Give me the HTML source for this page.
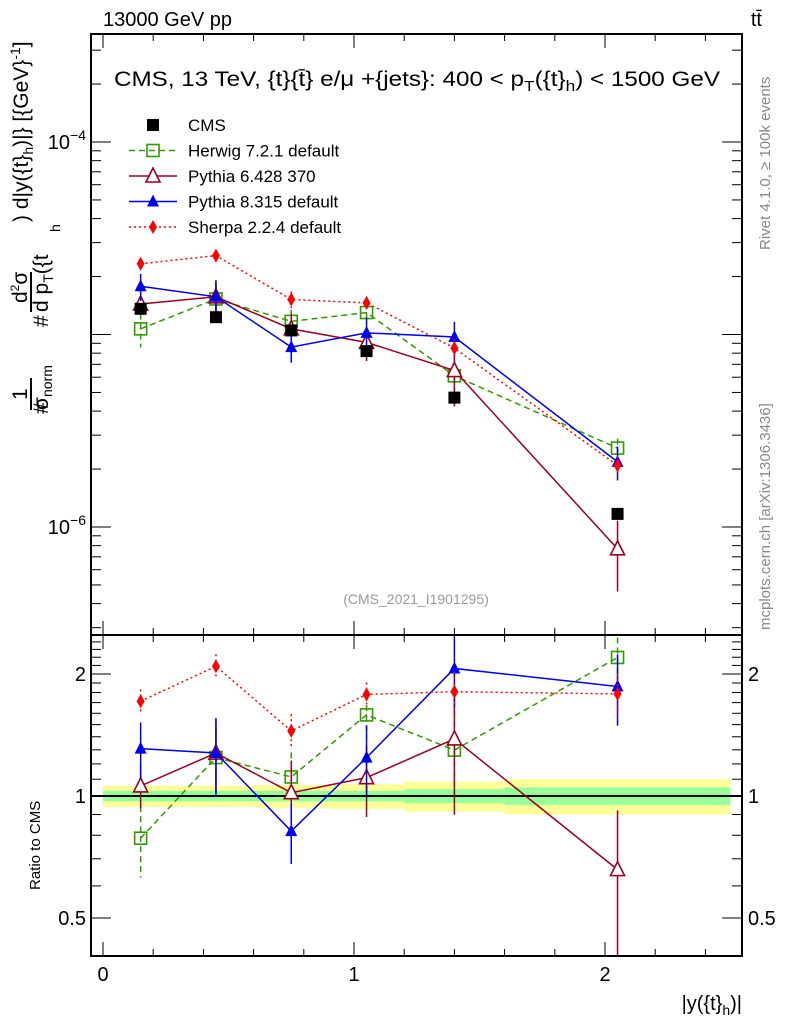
<!DOCTYPE html>
<html><head><meta charset="utf-8"><style>
html,body{margin:0;padding:0;background:#fff;}
svg{display:block;font-family:"Liberation Sans",sans-serif;}
</style></head><body>
<svg id="chart" width="786" height="1024" viewBox="0 0 786 1024">
<g id="bands"></g>
<g id="ticks"></g>
<g id="series"></g>
<rect x="91" y="34" width="651" height="601" fill="none" stroke="#000" stroke-width="2"/>
<rect x="91" y="635" width="651" height="321" fill="none" stroke="#000" stroke-width="2"/>
<text x="103" y="26" font-size="20">13000 GeV pp</text>
<text x="762" y="26" font-size="20" text-anchor="end">tt̄</text>
<text x="114" y="86" font-size="21" textLength="606" lengthAdjust="spacingAndGlyphs">CMS, 13 TeV, {t}{t̄} e/μ +{jets}: 400 &lt;  p<tspan font-size="15" dy="5">T</tspan><tspan dy="-5">({t}</tspan><tspan font-size="15" dy="5">h</tspan><tspan dy="-5">) &lt; 1500 GeV</tspan></text>
<text x="416" y="604" font-size="14" fill="#999" text-anchor="middle">(CMS_2021_I1901295)</text>
<text transform="translate(770,250) rotate(-90)" font-size="15" fill="#888">Rivet 4.1.0, ≥ 100k events</text>
<text transform="translate(770,630) rotate(-90)" font-size="15" fill="#888">mcplots.cern.ch [arXiv:1306.3436]</text>
<g transform="rotate(-90)" font-size="21">
<text x="-414" y="48">#</text>
<text x="-400" y="27">1</text>
<line x1="-410" y1="31" x2="-378" y2="31" stroke="#000" stroke-width="2"/>
<text x="-410" y="48">σ<tspan font-size="14" dy="4">norm</tspan></text>
<text x="-327" y="48">#</text>
<text x="-303" y="27">d<tspan font-size="12" dy="-8">2</tspan><tspan dy="8">σ</tspan></text>
<line x1="-312" y1="31" x2="-272" y2="31" stroke="#000" stroke-width="2"/>
<text x="-312" y="48">d p<tspan font-size="14" dy="5">T</tspan><tspan dy="-5">({t</tspan></text>
<text x="-232" y="60" font-size="14">h</text>
<text x="-222" y="28">) d|y({t}<tspan font-size="14" dy="5">h</tspan><tspan dy="-5">)|} [{GeV}</tspan><tspan font-size="14" dy="-8">-1</tspan><tspan dy="8">]</tspan></text>
</g>
<text transform="translate(40,890) rotate(-90)" font-size="15">Ratio to CMS</text>
<text x="742" y="1010" font-size="20" text-anchor="end">|y({t}<tspan font-size="14" dy="5">h</tspan><tspan dy="-5">)|</tspan></text>
<g id="legend"></g>
</svg>
<script>
const NS="http://www.w3.org/2000/svg";
const xCenters=[0.15,0.45,0.75,1.05,1.4,2.05];
const binEdges=[0,0.3,0.6,0.9,1.2,1.6,2.5];
const cmsVals=[1.36e-5,1.23e-5,1.05e-5,8.2e-6,4.7e-6,1.17e-6];
const herwigVals=[1.07e-5,1.53e-5,1.17e-5,1.30e-5,6.1e-6,2.57e-6];
const pythia6Vals=[1.44e-5,1.57e-5,1.07e-5,9.1e-6,6.5e-6,7.7e-7];
const pythia8Vals=[1.78e-5,1.57e-5,8.6e-6,1.02e-5,9.7e-6,2.18e-6];
const sherpaVals=[2.33e-5,2.57e-5,1.52e-5,1.46e-5,8.5e-6,2.09e-6];
const herwigErr=[0.2,0.18,0.15,0.12,0.25,0.12];
const pythia6Err=[0.12,0.2,0.2,0.2,0.35,0.4];
const pythia8Err=[0.16,0.22,0.17,0.2,0.2,0.2];
const sherpaErr=[0.07,0.07,0.1,0.07,0.12,0.12];
const bandInner=[0.03,0.03,0.03,0.03,0.04,0.05];
const bandOuter=[0.06,0.06,0.065,0.07,0.085,0.1];
const xTickLabels=["0","1","2"];
const ratioTickVals=[0.5,1,2];
const ratioTickLabels=["0.5","1","2"];

const X=v=>103+v*251;
const Y=v=>142-(Math.log10(v)+4)*192.5;
const R=v=>796-Math.log2(v)*122;
const RTOP=635,RBOT=956,TOP=34;

function mk(tag,attrs,parent){const e=document.createElementNS(NS,tag);for(const k in attrs)e.setAttribute(k,attrs[k]);parent.appendChild(e);return e;}
const bands=document.getElementById('bands');
const ticks=document.getElementById('ticks');
const series=document.getElementById('series');
const legend=document.getElementById('legend');

for(let i=0;i<cmsVals.length;i++){
  const x0=X(binEdges[i]),x1=X(binEdges[i+1]);
  const o=mk('rect',{x:x0,y:R(1+bandOuter[i]),width:x1-x0,height:R(1-bandOuter[i])-R(1+bandOuter[i]),fill:'#ffff99'},bands);
  
  
  const n=mk('rect',{x:x0,y:R(1+bandInner[i]),width:x1-x0,height:R(1-bandInner[i])-R(1+bandInner[i]),fill:'#99ff99'},bands);
  
  
}
const one=mk('line',{x1:91,x2:742,y1:R(1),y2:R(1),stroke:'#000','stroke-width':2},bands);



for(let v=0;v<=2.5001;v+=0.2){
  const major=Math.abs(v-Math.round(v))<1e-6;
  const xv=X(v);
  const L=major?14:7;
  mk('line',{x1:xv,x2:xv,y1:RBOT,y2:RBOT-L,stroke:'#000'},ticks);
  mk('line',{x1:xv,x2:xv,y1:RTOP,y2:RTOP-L,stroke:'#000'},ticks);
  mk('line',{x1:xv,x2:xv,y1:RTOP,y2:RTOP+L,stroke:'#000'},ticks);
  mk('line',{x1:xv,x2:xv,y1:TOP,y2:TOP+L,stroke:'#000'},ticks);
}
xTickLabels.forEach((t,i)=>{
  const e=mk('text',{x:X(i),y:981,'font-size':20,'text-anchor':'middle'},ticks);
  e.textContent=t;
  
  
});
for(let d=-7;d<=-4;d++){
  for(let m=1;m<10;m++){
    const v=m*Math.pow(10,d);const y=Y(v);
    if(y<TOP||y>RTOP)continue;
    const L=m===1?20:10;
    mk('line',{x1:91,x2:91+L,y1:y,y2:y,stroke:'#000'},ticks);
    mk('line',{x1:742,x2:742-L,y1:y,y2:y,stroke:'#000'},ticks);
  }
}
[-6,-4].forEach(d=>{
  const e=mk('text',{x:86,y:Y(Math.pow(10,d))+7,'font-size':20,'text-anchor':'end'},ticks);
  e.innerHTML='10<tspan font-size="14" dy="-9">−'+(-d)+'</tspan>';
  
  
});
for(let v=0.4;v<2.6;v+=0.1){
  const y=R(v);if(y<RTOP||y>RBOT)continue;
  const major=[0.5,1,2].some(t=>Math.abs(t-v)<1e-6);
  const L=major?20:10;
  mk('line',{x1:91,x2:91+L,y1:y,y2:y,stroke:'#000'},ticks);
  mk('line',{x1:742,x2:742-L,y1:y,y2:y,stroke:'#000'},ticks);
}
ratioTickVals.forEach((v,i)=>{
  const a=mk('text',{x:86,y:R(v)+7,'font-size':20,'text-anchor':'end'},ticks);
  a.textContent=ratioTickLabels[i];
  
  
  const b=mk('text',{x:748,y:R(v)+7,'font-size':20},ticks);
  b.textContent=ratioTickLabels[i];
  
  
});

function marker(kind,x,y,c,g){
  if(kind==='sq') return mk('rect',{x:x-6,y:y-6,width:12,height:12,fill:'none',stroke:c,'stroke-width':1.6},g);
  if(kind==='box') return mk('rect',{x:x-6,y:y-6,width:12,height:12,fill:c},g);
  if(kind==='otri') return mk('polygon',{points:`${x},${y-8} ${x-7},${y+6} ${x+7},${y+6}`,fill:'#fff',stroke:c,'stroke-width':1.6},g);
  if(kind==='tri') return mk('polygon',{points:`${x},${y-7} ${x-6},${y+5} ${x+6},${y+5}`,fill:c},g);
  if(kind==='dia') return mk('polygon',{points:`${x},${y-7} ${x-4},${y} ${x},${y+7} ${x+4},${y}`,fill:c},g);
}
const models=[
  {name:'herwig',vals:herwigVals,err:herwigErr,c:'#339900',dash:'6,4',m:'sq',label:'Herwig 7.2.1 default'},
  {name:'pythia6',vals:pythia6Vals,err:pythia6Err,c:'#990022',dash:'',m:'otri',label:'Pythia 6.428 370'},
  {name:'pythia8',vals:pythia8Vals,err:pythia8Err,c:'#0000ee',dash:'',m:'tri',label:'Pythia 8.315 default'},
  {name:'sherpa',vals:sherpaVals,err:sherpaErr,c:'#ff0000',dash:'2,3',m:'dia',label:'Sherpa 2.2.4 default'}
];
models.forEach(md=>{
  const g=mk('g',{},series);
  
  
  const up=[],lo=[];
  md.vals.forEach((v,i)=>{
    const r=v/cmsVals[i];
    const x=X(xCenters[i]);
    up.push(x+','+Y(v));
    lo.push(x+','+R(r));
    const eU1=Y(v*(1+md.err[i])),eU0=Y(Math.max(v*(1-md.err[i]),1e-9));
    mk('line',{x1:x,x2:x,y1:Math.max(eU1,TOP),y2:Math.min(eU0,RTOP),stroke:md.c,'stroke-width':1.5,'stroke-dasharray':md.dash},g);
    const eL1=R(r*(1+md.err[i])),eL0=R(Math.max(r*(1-md.err[i]),0.01));
    mk('line',{x1:x,x2:x,y1:Math.max(eL1,RTOP),y2:Math.min(eL0,RBOT),stroke:md.c,'stroke-width':1.5,'stroke-dasharray':md.dash},g);
  });
  mk('polyline',{points:up.join(' '),fill:'none',stroke:md.c,'stroke-width':1.5,'stroke-dasharray':md.dash},g);
  mk('polyline',{points:lo.join(' '),fill:'none',stroke:md.c,'stroke-width':1.5,'stroke-dasharray':md.dash},g);
  md.vals.forEach((v,i)=>{
    const p1=marker(md.m,X(xCenters[i]),Y(v),md.c,g);
    
    
    const p2=marker(md.m,X(xCenters[i]),R(v/cmsVals[i]),md.c,g);
    
    
  });
});
const cg=mk('g',{},series);


cmsVals.forEach((v,i)=>{
  const p=marker('box',X(xCenters[i]),Y(v),'#000',cg);
  
  
});

const lg=[{m:'box',c:'#000',dash:null,label:'CMS'}].concat(models);
lg.forEach((it,i)=>{
  const y=125+i*25.5;
  const e=mk('g',{},legend);
  
  
  if(it.dash!==null) mk('line',{x1:129,x2:177,y1:y,y2:y,stroke:it.c,'stroke-width':1.5,'stroke-dasharray':it.dash},e);
  marker(it.m,153,y,it.c,e);
  const t=mk('text',{x:188,y:y+6,'font-size':17},e);
  t.textContent=it.label;
});
</script>
</body></html>
